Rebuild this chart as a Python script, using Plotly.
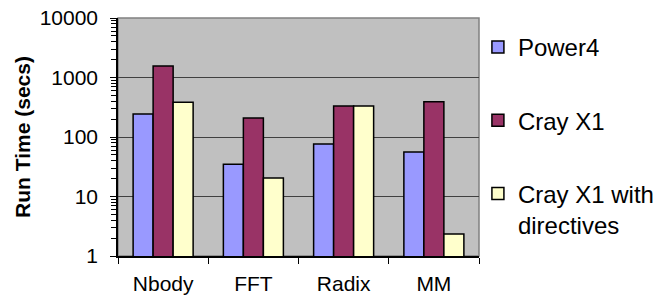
import plotly.graph_objects as go

categories = ["Nbody", "FFT", "Radix", "MM"]
power4 = [244, 35, 76, 56]
cray_x1 = [1555, 209, 332, 390]
cray_x1_dir = [383, 20.5, 332, 2.34]
series_names = ["Power4", "Cray X1", "Cray X1 with<br>directives"]
series_colors = ["#9999FF", "#993366", "#FFFFCC"]
y_tickvals = [1, 10, 100, 1000, 10000]
y_ticktext = ["1", "10", "100", "1000", "10000"]

FONT = "Liberation Sans, Arial, sans-serif"

fig = go.Figure()
for i, (name, vals, col) in enumerate(zip(series_names, [power4, cray_x1, cray_x1_dir], series_colors)):
    fig.add_trace(go.Bar(
        x=categories, y=vals, name=name, legendgroup=f"g{i}",
        marker=dict(color=col, line=dict(color="black", width=1.5)),
    ))

fig.update_layout(
    width=664, height=299,
    margin=dict(l=118, r=185, t=18, b=43, autoexpand=False),
    paper_bgcolor="white", plot_bgcolor="#C0C0C0",
    barmode="group", bargap=0.335, bargroupgap=0,
    font=dict(family=FONT, size=21, color="black"),
    legend=dict(
        x=0.997, xanchor="left", y=0.971, yanchor="top",
        font=dict(family=FONT, size=24, color="black"),
        tracegroupgap=39, valign="top", bgcolor="rgba(0,0,0,0)",
    ),
    shapes=[dict(type="rect", xref="paper", yref="paper", x0=0, x1=1, y0=0, y1=1,
                 line=dict(color="#808080", width=1.5), layer="below")],
)

fig.update_xaxes(
    type="category", showgrid=False, showline=True, linecolor="black", linewidth=1.5,
    ticks="outside", tickson="boundaries", ticklen=6, tickcolor="black", tickwidth=1,
    ticklabelstandoff=8, tickfont=dict(size=21), automargin=False,
)
fig.update_yaxes(
    type="log", range=[0, 4.0001], tickvals=y_tickvals, ticktext=y_ticktext,
    showgrid=True, gridcolor="#404040", gridwidth=1,
    showline=True, linecolor="black", linewidth=1.5,
    ticks="outside", ticklen=6, tickcolor="black", tickwidth=1,
    minor=dict(ticks="outside", ticklen=5, tickcolor="black", dtick="D1", showgrid=False),
    ticklabelstandoff=8, tickfont=dict(size=21), automargin=False,
    ticklabeloverflow="allow",
    title=dict(text="<b>Run Time (secs)</b>", font=dict(size=21), standoff=3),
)

# remove the page's default 8px body margin so the figure sits at the window's corner
fig.write_html("out.html", config={"displayModeBar": False},
               post_script="document.body.style.margin='0';")
